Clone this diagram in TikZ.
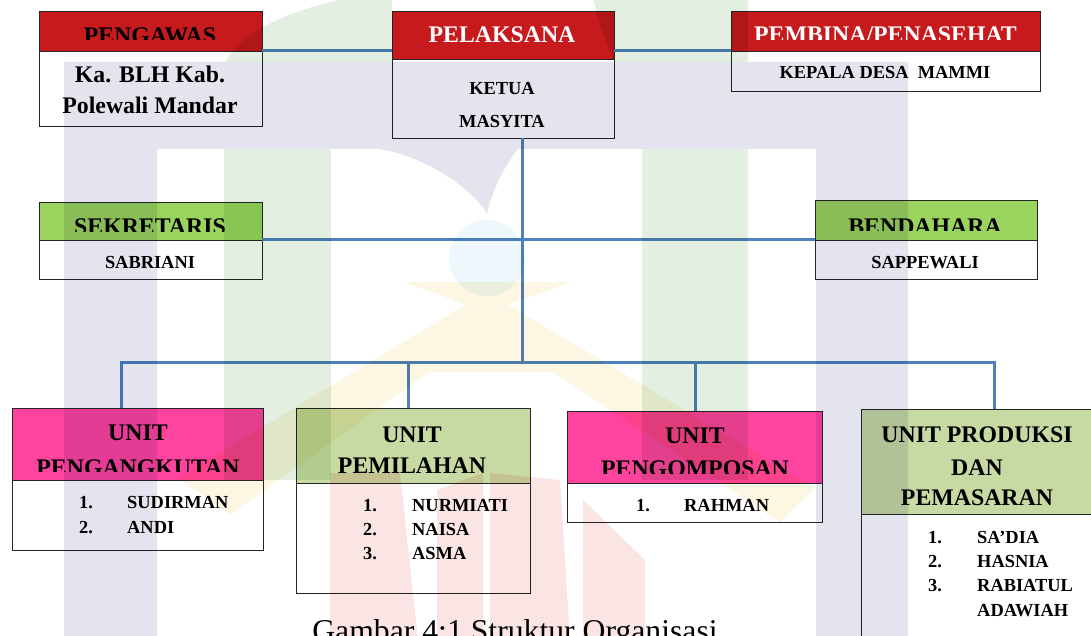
\documentclass[tikz,border=0pt]{standalone}
\usepackage{fontspec}
\setmainfont{Liberation Serif}
\usepackage{xcolor}
\usepackage{tikz}
\usetikzlibrary{positioning,calc}

\definecolor{hdrred}{HTML}{C61A1C}
\definecolor{hdrgreen}{HTML}{9BD35F}
\definecolor{hdrpink}{HTML}{FF449F}
\definecolor{hdrolive}{HTML}{C8DAA3}
\definecolor{linkblue}{HTML}{4F81BD}
\definecolor{wmlav}{HTML}{E4E4EE}
\definecolor{wmgreen}{HTML}{E3EFE1}
\definecolor{wmyellow}{HTML}{FCF6E3}
\definecolor{wmblue}{HTML}{EEF8FC}
\definecolor{wmred}{HTML}{FBE4E4}

\begin{document}
\begin{tikzpicture}[x=1pt,y=-1pt,
    box/.style={draw=black!85, line width=0.9pt, inner sep=0pt, outer sep=0pt},
    hdr/.style={box},
    bodybox/.style={box, fill=white},
    link/.style={draw=linkblue, line width=3pt},
    htxt/.style={anchor=base, inner sep=0pt, font=\bfseries\fontsize{23.8}{30}\selectfont},
    btxt/.style={anchor=base, inner sep=0pt, font=\bfseries\fontsize{18.4}{24}\selectfont},
    ltxt/.style={anchor=base west, inner sep=0pt, font=\bfseries\fontsize{18.4}{24}\selectfont}]
    \useasboundingbox (0,0) rectangle (1091,636);
    \clip (0,0) rectangle (1091,636);

    % Top row
    \node[hdr, fill=hdrred, minimum width=223pt, minimum height=40pt] (pengawas) at (150.5,31) {};
    \node[bodybox, minimum width=223pt, minimum height=75pt] (pengawas body) at (150.5,88.5) {};
    \node[hdr, fill=hdrred, minimum width=222pt, minimum height=48pt] (pelaksana) at (503,35) {};
    \node[bodybox, minimum width=222pt, minimum height=79pt] (pelaksana body) at (503,98.5) {};
    \node[hdr, fill=hdrred, minimum width=309pt, minimum height=40pt] (pembina) at (885.5,31) {};
    \node[bodybox, minimum width=309pt, minimum height=40pt] (pembina body) at (885.5,71) {};

    % Middle row
    \node[hdr, fill=hdrgreen, minimum width=223pt, minimum height=38pt] (sekretaris) at (150.5,221) {};
    \node[bodybox, minimum width=223pt, minimum height=39pt] (sekretaris body) at (150.5,259.5) {};
    \node[hdr, fill=hdrgreen, minimum width=222pt, minimum height=40pt] (bendahara) at (926,220) {};
    \node[bodybox, minimum width=222pt, minimum height=39pt] (bendahara body) at (926,259.5) {};

    % Units
    \node[hdr, fill=hdrpink, minimum width=251pt, minimum height=72pt] (angkut) at (137.5,444) {};
    \node[bodybox, minimum width=251pt, minimum height=70pt] (angkut body) at (137.5,515) {};
    \node[hdr, fill=hdrolive, minimum width=234pt, minimum height=75pt] (pilah) at (413,445.5) {};
    \node[bodybox, minimum width=234pt, minimum height=110pt] (pilah body) at (413,538) {};
    \node[hdr, fill=hdrpink, minimum width=255pt, minimum height=72pt] (kompos) at (694.5,447) {};
    \node[bodybox, minimum width=255pt, minimum height=39pt] (kompos body) at (694.5,502.5) {};
    \node[hdr, fill=hdrolive, minimum width=232pt, minimum height=105pt] (produksi) at (977,461.5) {};
    \node[bodybox, minimum width=232pt, minimum height=146pt] (produksi body) at (977,587) {};

    % Connectors
    \coordinate (trunk) at (522,0);
    \coordinate (d1) at (121,362);
    \coordinate (d2) at (408,362);
    \coordinate (d3) at (695,362);
    \coordinate (d4) at (994,362);
    \draw[link] (pengawas.south east) -- (pengawas.south east -| pelaksana.west);
    \draw[link] (pelaksana.east |- pembina.south west) -- (pembina.south west);
    \draw[link] (trunk |- pelaksana body.south) -- (trunk |- d1);
    \draw[link] (sekretaris.south east) -- (bendahara.south west);
    \draw[link] (d1 |- angkut.north) -- (d1) -- (d4) -- (d4 |- produksi.north);
    \draw[link] (d2) -- (d2 |- pilah.north);
    \draw[link] (d3) -- (d3 |- kompos.north);

    % Header texts (cut off at the bottom as in the source)
    \begin{scope}
        \clip (pengawas.north west) rectangle (pengawas.east |- 0,40);
        \node[htxt] (pengawas t) at (150,44) {PENGAWAS};
    \end{scope}
    \node[htxt, text=white] (pelaksana t) at (502,43) {PELAKSANA};
    \begin{scope}
        \clip (pembina.north west) rectangle (pembina.east |- 0,40);
        \node[htxt, text=white] (pembina t) at (885.5,43) {PEMBINA/PENASEHAT};
    \end{scope}
    \begin{scope}
        \clip (sekretaris.north west) rectangle (sekretaris.east |- 0,232);
        \node[htxt] (sekretaris t) at (150,235) {SEKRETARIS};
    \end{scope}
    \begin{scope}
        \clip (bendahara.north west) rectangle (bendahara.east |- 0,231);
        \node[htxt] (bendahara t) at (925,234) {BENDAHARA};
    \end{scope}
    \begin{scope}
        \clip (angkut.north west) rectangle (angkut.east |- 0,471);
        \node[htxt] (angkut t1) at (138,440) {UNIT};
        \node[htxt] (angkut t2) at (138,475) {PENGANGKUTAN};
    \end{scope}
    \node[htxt] (pilah t1) at (412,442) {UNIT};
    \node[htxt] (pilah t2) at (412,473) {PEMILAHAN};
    \begin{scope}
        \clip (kompos.north west) rectangle (kompos.east |- 0,473);
        \node[htxt] (kompos t1) at (695,443) {UNIT};
        \node[htxt] (kompos t2) at (695,476) {PENGOMPOSAN};
    \end{scope}
    \node[htxt] (produksi t1) at (977,442) {UNIT PRODUKSI};
    \node[htxt] (produksi t2) at (977,475) {DAN};
    \node[htxt] (produksi t3) at (977,505) {PEMASARAN};

    % Body texts
    \node[htxt] (pengawas b1) at (150,83) {Ka. BLH Kab.};
    \node[htxt] (pengawas b2) at (150,114) {Polewali Mandar};
    \node[btxt] (pelaksana b1) at (502,95) {KETUA};
    \node[btxt] (pelaksana b2) at (502,128) {MASYITA};
    \node[btxt] (pembina b) at (885,79) {KEPALA DESA\ \ MAMMI};
    \node[btxt] (sekretaris b) at (150,268) {SABRIANI};
    \node[btxt] (bendahara b) at (925,268) {SAPPEWALI};

    % Member lists
    \foreach \n/\who/\y in {1/SUDIRMAN/508, 2/ANDI/533} {
        \node[ltxt] (angkut n\n) at (79,\y) {\n.};
        \node[ltxt] (angkut m\n) at (127,\y) {\who};
    }
    \foreach \n/\who/\y in {1/NURMIATI/511, 2/NAISA/535, 3/ASMA/559} {
        \node[ltxt] (pilah n\n) at (363,\y) {\n.};
        \node[ltxt] (pilah m\n) at (412,\y) {\who};
    }
    \node[ltxt] (kompos n1) at (636,511) {1.};
    \node[ltxt] (kompos m1) at (684,511) {RAHMAN};
    \foreach \n/\who/\y in {1/SA’DIA/543, 2/HASNIA/567, 3/RABIATUL/591} {
        \node[ltxt] (produksi n\n) at (928,\y) {\n.};
        \node[ltxt] (produksi m\n) at (977,\y) {\who};
    }
    \node[ltxt] (produksi m4) at (977,616) {ADAWIAH};

    % Caption
    \node[anchor=base, inner sep=0pt, font=\fontsize{31.7}{38}\selectfont] (caption) at (515,641) {Gambar 4:1 Struktur Organisasi};

    % Faded logo behind the chart
    \begin{scope}[blend mode=multiply]
        \fill[wmlav] (64,62) -- (908,62) -- (908,640) -- (816,640) -- (816,149) -- (518,149)
            .. controls (505,165) and (492,190) .. (487,214)
            .. controls (470,185) and (420,155) .. (379,149) -- (157,149) -- (157,640) -- (64,640) -- cycle;
        \fill[wmgreen] (226,62) .. controls (240,30) and (300,5) .. (367,-5) -- (392,-5) -- (392,62) -- cycle;
        \fill[wmgreen] (593,-5) -- (748,-5) -- (748,62) -- (614,62) .. controls (605,40) and (597,20) .. (593,-5);
        \fill[wmgreen] (224,149) rectangle (331,480);
        \fill[wmgreen] (642,149) rectangle (748,480);
        \fill[wmblue] (487,258) circle (38pt);
        \fill[wmyellow] (404,282) -- (571,282) -- (487,312) -- cycle
            (487,292) -- (512,312) -- (230,515) -- (178,478) -- cycle
            (487,292) -- (815,488) -- (780,522) -- (462,312) -- cycle
            (487,300) -- (565,372) -- (410,372) -- cycle;
        \fill[wmred] (330,473) -- (400,473) -- (418,640) -- (330,640) -- cycle;
        \fill[wmred] (437,490) -- (483,473) -- (483,640) -- (437,640) -- cycle;
        \fill[wmred] (490,473) -- (560,480) -- (570,640) -- (490,640) -- cycle;
        \fill[wmred] (583,500) -- (645,560) -- (645,640) -- (583,640) -- cycle;
    \end{scope}
\end{tikzpicture}
\end{document}
